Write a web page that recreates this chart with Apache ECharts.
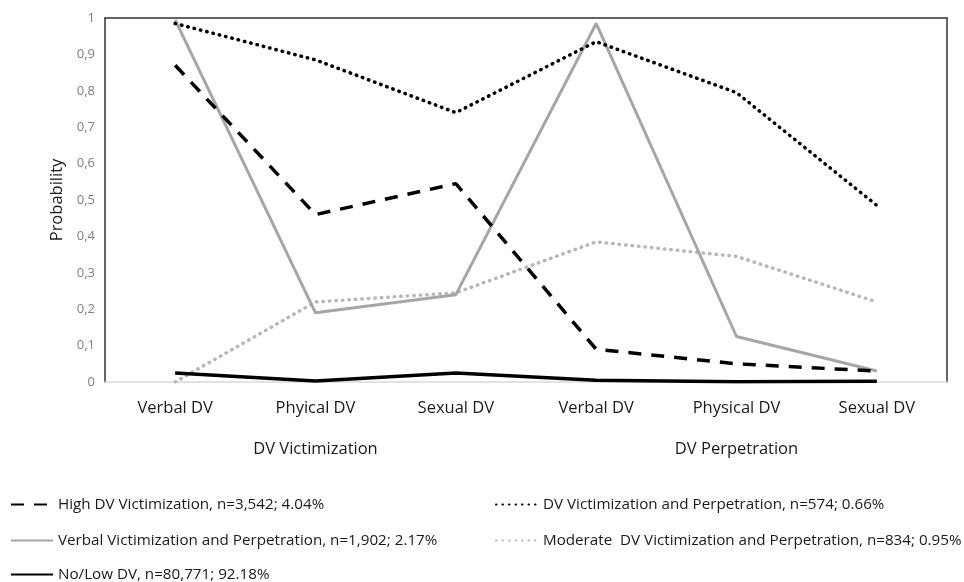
<!DOCTYPE html>
<html>
<head>
<meta charset="utf-8">
<script src="https://cdn.jsdelivr.net/npm/echarts@6/dist/echarts.min.js"></script>
<style>html,body{margin:0;padding:0;background:#fff}#c{width:964px;height:582px}</style>
</head>
<body>
<div id="c"></div>
<script>
var categories = ['Verbal DV', 'Phyical DV', 'Sexual DV', 'Verbal DV', 'Physical DV', 'Sexual DV'];
var groupLabels = ['', 'DV Victimization', '', '', 'DV Perpetration', ''];
var yTicks = [0, 0.1, 0.2, 0.3, 0.4, 0.5, 0.6, 0.7, 0.8, 0.9, 1];
var highVic = [0.87, 0.46, 0.545, 0.09, 0.05, 0.03];
var vicPerp = [0.985, 0.885, 0.74, 0.935, 0.795, 0.485];
var verbalVicPerp = [0.995, 0.19, 0.24, 0.985, 0.125, 0.03];
var moderate = [0.0, 0.22, 0.245, 0.385, 0.345, 0.22];
var noLow = [0.025, 0.003, 0.025, 0.005, 0.001, 0.002];
var names = [
  'High DV Victimization, n=3,542; 4.04%',
  'DV Victimization and Perpetration, n=574; 0.66%',
  'Verbal Victimization and Perpetration, n=1,902; 2.17%',
  'Moderate  DV Victimization and Perpetration, n=834; 0.95%',
  'No/Low DV, n=80,771; 92.18%'
];
var font = "'Open Sans', 'Liberation Sans', sans-serif";
var chart = echarts.init(document.getElementById('c'));
function leg(name, left, top) {
  return {left: left, top: top, padding: 0, itemGap: 5, itemWidth: 42, itemHeight: 18,
    itemStyle: {opacity: 0},
    textStyle: {fontFamily: font, fontSize: 15.2, color: '#1a1a1a'}, data: [name]};
}
chart.setOption({
  animation: false,
  grid: {left: 105, right: 17, top: 18, bottom: 200},
  legend: [
    leg(names[0], 10, 497),
    leg(names[2], 10, 533),
    leg(names[4], 10, 567),
    leg(names[1], 495, 497),
    leg(names[3], 495, 533)
  ],
  xAxis: [
    {type: 'category', data: categories, position: 'bottom', boundaryGap: true,
     axisLine: {show: true, lineStyle: {color: '#d9d9d9', width: 1.5}},
     axisTick: {show: false},
     axisLabel: {fontFamily: font, fontSize: 16.5, color: '#1a1a1a', margin: 18}},
    {type: 'category', data: groupLabels, position: 'bottom', offset: 51, boundaryGap: true,
     axisLine: {show: false}, axisTick: {show: false},
     axisLabel: {fontFamily: font, fontSize: 16.5, color: '#1a1a1a', interval: 0}},
    {type: 'category', data: categories, position: 'top', boundaryGap: true,
     axisLine: {show: true, lineStyle: {color: '#333', width: 1.5}},
     axisTick: {show: false}, axisLabel: {show: false}}
  ],
  yAxis: [
    {type: 'value', min: 0, max: 1, interval: 0.1,
     name: 'Probability', nameLocation: 'middle', nameGap: 32,
     nameTextStyle: {fontFamily: font, fontSize: 16.5, color: '#1a1a1a'},
     axisLine: {show: true, lineStyle: {color: '#333', width: 1.5}},
     axisTick: {show: false}, splitLine: {show: false},
     axisLabel: {fontFamily: font, fontSize: 13, color: '#7f7f7f', margin: 10,
       formatter: function (v) { return String(Math.round(v * 10) / 10).replace('.', ','); }}},
    {type: 'value', min: 0, max: 1, position: 'right',
     axisLine: {show: true, lineStyle: {color: '#333', width: 1.5}},
     axisTick: {show: false}, axisLabel: {show: false}, splitLine: {show: false}}
  ],
  series: [
    {name: names[4], type: 'line', data: noLow, symbol: 'none', z: 5,
     lineStyle: {color: '#000', width: 3.5}, itemStyle: {color: '#000'}},
    {name: names[3], type: 'line', data: moderate, symbol: 'none',
     lineStyle: {color: '#b8b8b8', width: 3.5, type: [0.5, 6], cap: 'round'}, itemStyle: {color: '#b8b8b8'}},
    {name: names[2], type: 'line', data: verbalVicPerp, symbol: 'none',
     lineStyle: {color: '#a6a6a6', width: 3}, itemStyle: {color: '#a6a6a6'}},
    {name: names[1], type: 'line', data: vicPerp, symbol: 'none',
     lineStyle: {color: '#000', width: 3.5, type: [0.5, 6], cap: 'round'}, itemStyle: {color: '#000'}},
    {name: names[0], type: 'line', data: highVic, symbol: 'none',
     lineStyle: {color: '#000', width: 3.5, type: [13, 10]}, itemStyle: {color: '#000'}}
  ]
});
</script>
</body>
</html>
